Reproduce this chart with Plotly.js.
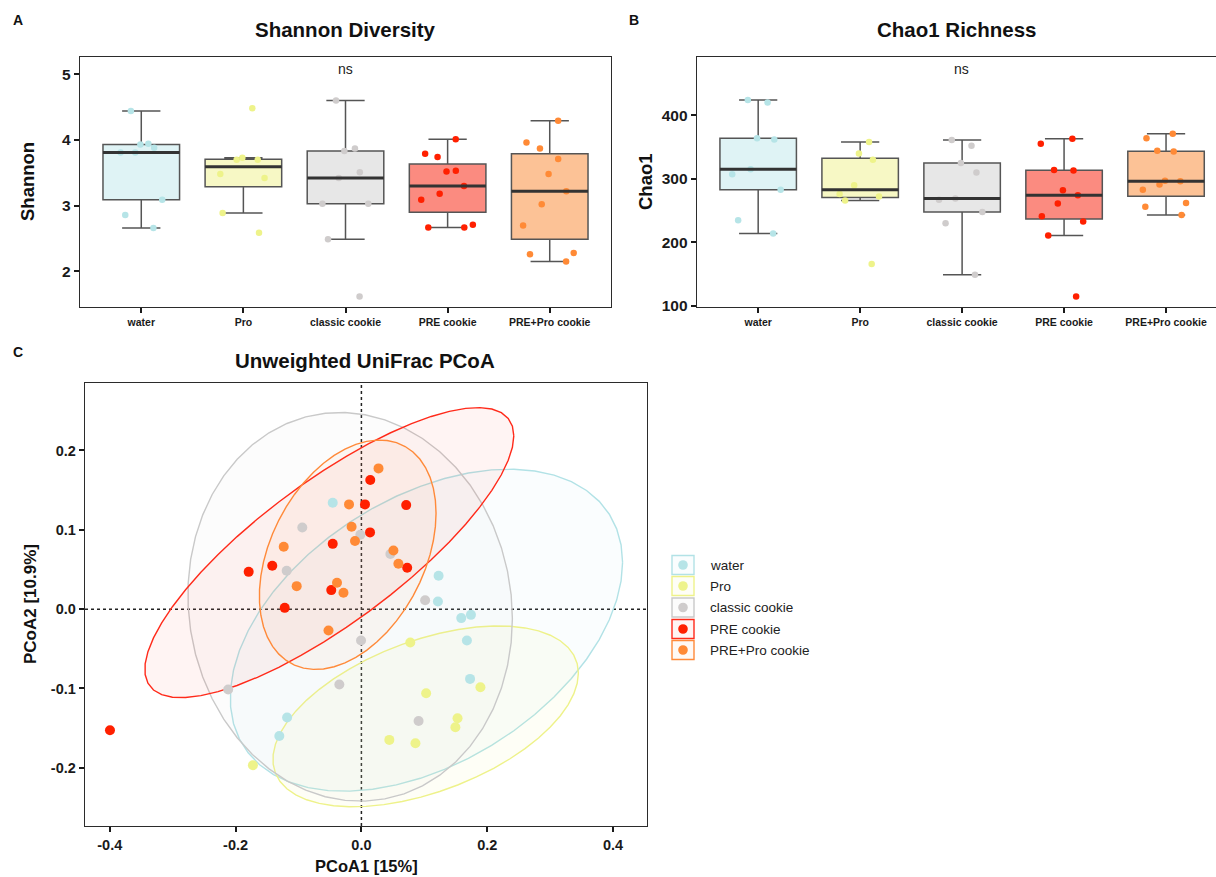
<!DOCTYPE html>
<html><head><meta charset="utf-8">
<script src="https://cdn.plot.ly/plotly-3.0.1.min.js"></script>
<style>html,body{margin:0;padding:0;background:#fff}#chart{width:1216px;height:877px}</style>
</head><body><div id="chart"></div>
<script>
// ---------- categories ----------
const groups = ["water", "Pro", "classic cookie", "PRE cookie", "PRE+Pro cookie"];

// ---------- Shannon diversity (panel A) ----------
const shannonWater   = [4.44, 3.93, 3.94, 3.88, 3.81, 3.81, 3.09, 2.86, 2.66];
const shannonPro     = [4.48, 3.73, 3.70, 3.70, 3.48, 3.42, 2.89, 2.59];
const shannonClassic = [4.60, 3.87, 3.83, 3.51, 3.42, 3.03, 3.03, 2.49, 1.62];
const shannonPRE     = [4.01, 3.79, 3.74, 3.53, 3.52, 3.30, 3.18, 3.09, 2.71, 2.67, 2.67];
const shannonPREPro  = [4.29, 3.96, 3.87, 3.71, 3.48, 3.22, 3.02, 2.70, 2.28, 2.26, 2.15];

// ---------- Chao1 richness (panel B) ----------
const chaoWater   = [424, 420, 362, 364, 315, 307, 283, 235, 214];
const chaoPro     = [358, 340, 330, 290, 276, 272, 266, 166];
const chaoClassic = [361, 352, 325, 310, 269, 267, 248, 230, 149];
const chaoPRE     = [363, 355, 314, 313, 282, 274, 261, 241, 233, 211, 115];
const chaoPREPro  = [371, 364, 344, 343, 297, 296, 291, 283, 262, 256, 243];

// ---------- PCoA coordinates (panel C) ----------
const pcoaWaterX   = [-0.0456, 0.1227, 0.1216, 0.1587, 0.1741, 0.1677, 0.1727, -0.1181, -0.1305];
const pcoaWaterY   = [0.1340, 0.0420, 0.0097, -0.0113, -0.0072, -0.0395, -0.0879, -0.1366, -0.1598];
const pcoaProX     = [0.0777, 0.1892, 0.1029, 0.1528, 0.1494, 0.0444, 0.0859, -0.1725];
const pcoaProY     = [-0.0420, -0.0984, -0.1059, -0.1375, -0.1488, -0.1648, -0.1690, -0.1967];
const pcoaClassicX = [-0.0940, -0.0017, -0.1188, 0.0461, 0.1013, -0.0006, -0.2118, -0.0351, 0.0909];
const pcoaClassicY = [0.1028, 0.0937, 0.0483, 0.0694, 0.0113, -0.0395, -0.1013, -0.0950, -0.1409];
const pcoaPREX     = [0.0141, 0.0057, 0.0712, 0.0137, -0.0456, -0.1417, -0.1792, -0.0479, 0.0728, -0.1219, -0.3997];
const pcoaPREY     = [0.1627, 0.1320, 0.1311, 0.0967, 0.0823, 0.0546, 0.0470, 0.0240, 0.0521, 0.0016, -0.1526];
const pcoaPREProX  = [0.0272, -0.0197, -0.0156, -0.0102, -0.1235, 0.0509, 0.0588, -0.1029, -0.0388, -0.0285, -0.0523];
const pcoaPREProY  = [0.1774, 0.1320, 0.1038, 0.0858, 0.0786, 0.0740, 0.0571, 0.0290, 0.0332, 0.0206, -0.0269];

// ---------- styling ----------
const W = 1216, H = 877;
const FONT = "Liberation Sans, Arial, Helvetica, sans-serif";
const pointColors = ["#b6e4e7", "#eef38a", "#cfcccc", "#ff2000", "#ff8a36"];
const boxFills    = ["#dff3f5", "#f7f8c5", "#e7e7e7", "#fb8b80", "#fcc296"];
const lineColors  = ["#b2e2e6", "#eef28a", "#c9c9c9", "#ff2a1a", "#ff8a3a"];
const ellFills    = ["rgba(178,226,230,0.06)", "rgba(238,242,138,0.08)", "rgba(201,201,201,0.06)", "rgba(255,42,26,0.05)", "rgba(255,138,58,0.05)"];

const shannonData = [shannonWater, shannonPro, shannonClassic, shannonPRE, shannonPREPro];
const chaoData = [chaoWater, chaoPro, chaoClassic, chaoPRE, chaoPREPro];
const pcoaX = [pcoaWaterX, pcoaProX, pcoaClassicX, pcoaPREX, pcoaPREProX];
const pcoaY = [pcoaWaterY, pcoaProY, pcoaClassicY, pcoaPREY, pcoaPREProY];

// ---------- stats helpers ----------
function q7(s, p) { const h = (s.length - 1) * p, lo = Math.floor(h), hi = Math.ceil(h); return s[lo] + (h - lo) * (s[hi] - s[lo]); }
function boxStats(vals) {
  const s = [...vals].sort((a, b) => a - b);
  const q1 = q7(s, 0.25), med = q7(s, 0.5), q3 = q7(s, 0.75), iqr = q3 - q1;
  const lo = s.find(v => v >= q1 - 1.5 * iqr);
  const hi = [...s].reverse().find(v => v <= q3 + 1.5 * iqr);
  return {q1, med, q3, lo, hi};
}
function covTrob(xs, ys, nu = 5, maxit = 25, tol = 0.01) {
  const n = xs.length, p = 2;
  let loc = [xs.reduce((a, b) => a + b, 0) / n, ys.reduce((a, b) => a + b, 0) / n];
  let w = new Array(n).fill(1);
  let X = null;
  for (let it = 0; it < maxit; it++) {
    const w0 = w.slice();
    X = xs.map((x, i) => [x - loc[0], ys[i] - loc[1]]);
    const sw = w.reduce((a, b) => a + b, 0);
    let a = 0, b = 0, c = 0;
    for (let i = 0; i < n; i++) { const f = w[i] / sw; a += f * X[i][0] * X[i][0]; b += f * X[i][0] * X[i][1]; c += f * X[i][1] * X[i][1]; }
    const det = a * c - b * b;
    const Q = X.map(([u, v]) => (c * u * u - 2 * b * u * v + a * v * v) / det);
    w = Q.map(q => (nu + p) / (nu + q));
    const sw2 = w.reduce((s, v) => s + v, 0);
    loc = [w.reduce((s, v, i) => s + v * xs[i], 0) / sw2, w.reduce((s, v, i) => s + v * ys[i], 0) / sw2];
    if (w.every((wi, i) => Math.abs(wi - w0[i]) < tol)) break;
  }
  let a = 0, b = 0, c = 0;
  for (let i = 0; i < n; i++) { a += w[i] * X[i][0] * X[i][0]; b += w[i] * X[i][0] * X[i][1]; c += w[i] * X[i][1] * X[i][1]; }
  return {cov: [a / n, b / n, c / n], center: loc};
}
function ellipse(xs, ys, level = 0.95, segments = 51) {
  const {cov, center} = covTrob(xs, ys);
  const d = xs.length - 1;
  const f = (d / 2) * (Math.pow(1 - level, -2 / d) - 1);
  const radius = Math.sqrt(2 * f);
  const r11 = Math.sqrt(cov[0]), r12 = cov[1] / r11, r22 = Math.sqrt(cov[2] - r12 * r12);
  const ex = [], ey = [];
  for (let k = 0; k <= segments; k++) {
    const t = k * 2 * Math.PI / segments, co = Math.cos(t), si = Math.sin(t);
    ex.push(center[0] + radius * co * r11);
    ey.push(center[1] + radius * (co * r12 + si * r22));
  }
  return {ex, ey};
}

// ---------- traces ----------
const traces = [];
function boxPanel(data, xa, ya) {
  data.forEach((vals, i) => {
    const st = boxStats(vals);
    traces.push({type: 'box', orientation: 'v', x: [i], q1: [st.q1], median: [st.med], q3: [st.q3],
      lowerfence: [st.lo], upperfence: [st.hi], width: 0.75, boxpoints: false,
      fillcolor: boxFills[i], line: {color: '#555555', width: 1.5}, xaxis: xa, yaxis: ya,
      hoverinfo: 'skip', showlegend: false});
    traces.push({type: 'scatter', mode: 'lines', x: [i - 0.375, i + 0.375], y: [st.med, st.med],
      line: {color: '#333333', width: 3}, xaxis: xa, yaxis: ya, hoverinfo: 'skip', showlegend: false});
  });
  data.forEach((vals, i) => {
    traces.push({type: 'box', x: vals.map(() => i), y: vals, boxpoints: 'all', jitter: 0.85, pointpos: 0,
      width: 0.75, fillcolor: 'rgba(0,0,0,0)', line: {color: 'rgba(0,0,0,0)', width: 0},
      marker: {color: pointColors[i], size: 6.5}, xaxis: xa, yaxis: ya, hoverinfo: 'y', showlegend: false});
  });
}
boxPanel(shannonData, 'x', 'y');
boxPanel(chaoData, 'x2', 'y2');

pcoaX.forEach((xs, i) => {
  const {ex, ey} = ellipse(xs, pcoaY[i]);
  traces.push({type: 'scatter', mode: 'lines', x: ex, y: ey, fill: 'toself', fillcolor: ellFills[i],
    line: {color: lineColors[i], width: 1.4}, xaxis: 'x3', yaxis: 'y3', hoverinfo: 'skip', showlegend: false});
});
pcoaX.forEach((xs, i) => {
  traces.push({type: 'scatter', mode: 'markers', x: xs, y: pcoaY[i], name: groups[i],
    marker: {color: pointColors[i], size: 10}, xaxis: 'x3', yaxis: 'y3', showlegend: false});
});

// ---------- layout ----------
const px = v => v / W, py = v => 1 - v / H;
const axisBase = {showline: true, linecolor: '#2b2b2b', linewidth: 1.3, mirror: true, ticks: 'outside',
  ticklen: 5, tickwidth: 2, tickcolor: '#1a1a1a', showgrid: false, zeroline: false, fixedrange: true};
const catAxis = Object.assign({}, axisBase, {tickmode: 'array', tickvals: [0, 1, 2, 3, 4], ticktext: groups,
  tickfont: {family: FONT, size: 10.5, color: '#1a1a1a', weight: 'bold'}});
const numFont = {family: FONT, size: 15.5, color: '#1a1a1a', weight: 'bold'};
const pcoaFont = {family: FONT, size: 14.5, color: '#1a1a1a', weight: 'bold'};

function ann(text, x, y, size, extra) {
  return Object.assign({xref: 'paper', yref: 'paper', x: px(x), y: py(y), text: text, showarrow: false,
    xanchor: 'center', yanchor: 'middle', font: {family: FONT, size: size, color: '#111'}}, extra || {});
}

const annotations = [
  ann('<b>A</b>', 18, 20, 14), ann('<b>B</b>', 634, 20, 14), ann('<b>C</b>', 18, 352, 14),
  ann('<b>Shannon Diversity</b>', 345, 30, 20.5), ann('<b>Chao1 Richness</b>', 957, 30, 20.5),
  ann('<b>Unweighted UniFrac PCoA</b>', 365, 360, 20.5),
  ann('ns', 345, 69, 14, {font: {family: FONT, size: 14, color: '#222'}}),
  ann('ns', 962, 69, 14, {font: {family: FONT, size: 14, color: '#222'}}),
  ann('<b>Shannon</b>', 27, 182, 18.5, {textangle: -90}),
  ann('<b>Chao1</b>', 645, 182, 18.5, {textangle: -90}),
  ann('<b>PCoA2 [10.9%]</b>', 30, 604, 17, {textangle: -90}),
  ann('<b>PCoA1 [15%]</b>', 366, 866, 16.5)
];

// legend (drawn as shapes + text)
const shapes = [
  {type: 'line', xref: 'x3', yref: 'y3 domain', x0: 0, x1: 0, y0: 0, y1: 1, layer: 'below',
    line: {color: '#222', width: 1.5, dash: 'dot'}},
  {type: 'line', xref: 'x3 domain', yref: 'y3', x0: 0, x1: 1, y0: 0, y1: 0, layer: 'below',
    line: {color: '#222', width: 1.5, dash: 'dot'}}
];
const legRows = [565, 586, 607.5, 629, 650];
groups.forEach((g, i) => {
  const cy = legRows[i];
  shapes.push({type: 'rect', xref: 'paper', yref: 'paper', x0: px(672), x1: px(694), y0: py(cy - 9.5), y1: py(cy + 9.5),
    line: {color: lineColors[i], width: 1.4}, fillcolor: ellFills[i]});
  shapes.push({type: 'circle', xref: 'paper', yref: 'paper', x0: px(683 - 4.8), x1: px(683 + 4.8), y0: py(cy - 4.8), y1: py(cy + 4.8),
    line: {width: 0}, fillcolor: pointColors[i]});
  annotations.push(ann(g, 708, cy, 13.5, {xanchor: 'left', font: {family: FONT, size: 13.5, color: '#222'}}));
});

const layout = {
  width: W, height: H, margin: {l: 0, r: 0, t: 0, b: 0}, paper_bgcolor: '#fff', plot_bgcolor: '#fff',
  font: {family: FONT}, showlegend: false, boxmode: 'overlay',
  xaxis: Object.assign({}, catAxis, {domain: [px(80), px(611)], range: [-0.6, 4.6], anchor: 'y'}),
  yaxis: Object.assign({}, axisBase, {domain: [py(307), py(57)], range: [1.46, 5.26], anchor: 'x',
    tickvals: [2, 3, 4, 5], tickfont: numFont}),
  xaxis2: Object.assign({}, catAxis, {domain: [px(697), 1], range: [-0.6, 4.49], anchor: 'y2'}),
  yaxis2: Object.assign({}, axisBase, {domain: [py(307), py(57)], range: [98.4, 491.6], anchor: 'x2', mirror: false,
    tickvals: [100, 200, 300, 400], tickfont: numFont}),
  xaxis3: Object.assign({}, axisBase, {domain: [px(85), px(647)], range: [-0.4394, 0.454], anchor: 'y3',
    tickvals: [-0.4, -0.2, 0, 0.2, 0.4], ticktext: ['-0.4', '-0.2', '0.0', '0.2', '0.4'], tickfont: pcoaFont}),
  yaxis3: Object.assign({}, axisBase, {domain: [py(826), py(383)], range: [-0.2733, 0.285], anchor: 'x3',
    tickvals: [-0.2, -0.1, 0, 0.1, 0.2], ticktext: ['-0.2', '-0.1', '0.0', '0.1', '0.2'], tickfont: pcoaFont}),
  annotations: annotations, shapes: shapes
};

Plotly.newPlot('chart', traces, layout, {displayModeBar: false, staticPlot: true});
</script>
</body></html>
